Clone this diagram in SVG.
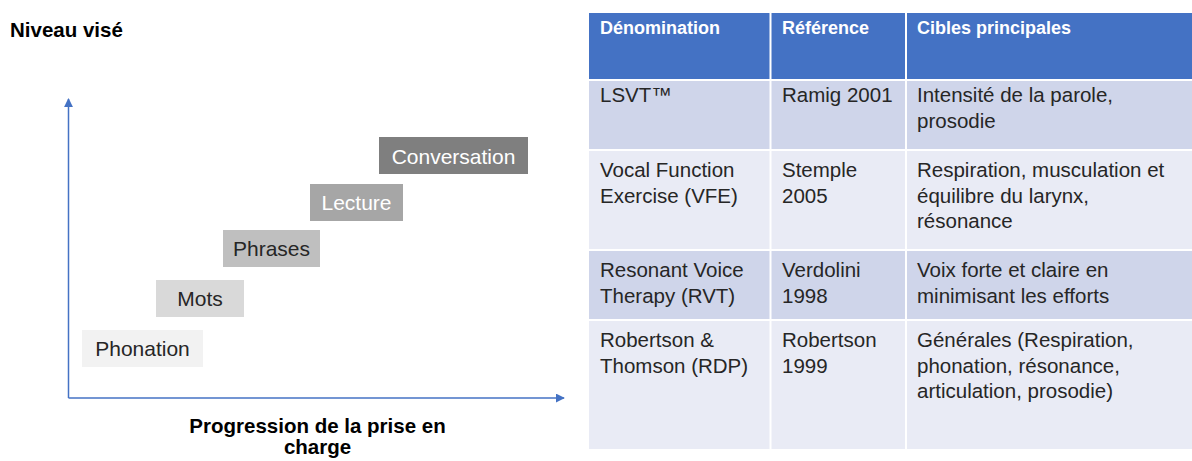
<svg xmlns="http://www.w3.org/2000/svg" width="1192" height="461" viewBox="0 0 1192 461">
<defs>
<style>
.t{font-family:"Liberation Sans",Arial,sans-serif;font-size:20.5px;fill:#262626}
.tb{font-family:"Liberation Sans",Arial,sans-serif;font-size:21px;fill:#262626;text-anchor:middle}
.h{font-family:"Liberation Sans",Arial,sans-serif;font-size:18px;font-weight:bold;fill:#ffffff}
.title{font-family:"Liberation Sans",Arial,sans-serif;font-size:20.5px;font-weight:bold;fill:#000000}
.ax{stroke:#4472c4;stroke-width:1.5;fill:none}
.dark{fill:#cfd5ea}
.light{fill:#e9ebf5}
</style>
<marker id="arr" viewBox="0 0 10 10" refX="9" refY="5" markerWidth="9" markerHeight="9" markerUnits="userSpaceOnUse" orient="auto">
<path d="M0,0 L10,5 L0,10 z" fill="#4472c4"/>
</marker>
</defs>
<rect width="1192" height="461" fill="#ffffff"/>

<text class="title" x="10" y="37">Niveau visé</text>

<g id="connectors">
<line class="ax" x1="68.5" y1="398" x2="68.5" y2="99" marker-end="url(#arr)"/>
<line class="ax" x1="68.5" y1="398" x2="564" y2="398" marker-end="url(#arr)"/>
</g>

<g id="phonation">
<rect x="82" y="330" width="121" height="37" fill="#f2f2f2"/>
<text class="tb" x="142.5" y="356">Phonation</text>
</g>
<g id="mots">
<rect x="156" y="280" width="88" height="37" fill="#d9d9d9"/>
<text class="tb" x="200" y="306">Mots</text>
</g>
<g id="phrases">
<rect x="223" y="230" width="97" height="37" fill="#bfbfbf"/>
<text class="tb" x="271.5" y="256">Phrases</text>
</g>
<g id="lecture">
<rect x="310" y="184" width="93" height="37" fill="#a6a6a6"/>
<text class="tb" x="356.5" y="210" style="fill:#ffffff">Lecture</text>
</g>
<g id="conversation">
<rect x="379" y="137" width="149" height="37" fill="#7f7f7f"/>
<text class="tb" x="453.5" y="164" style="fill:#ffffff">Conversation</text>
</g>

<text class="title" x="317.5" y="433" text-anchor="middle">Progression de la prise en</text>
<text class="title" x="317.5" y="454" text-anchor="middle">charge</text>

<g id="table">
<rect x="589" y="13" width="603" height="66" fill="#4472c4"/>
<rect class="dark" x="589" y="81" width="603" height="68"/>
<rect class="light" x="589" y="151" width="603" height="98"/>
<rect class="dark" x="589" y="251" width="603" height="68"/>
<rect class="light" x="589" y="321" width="603" height="128"/>
<line x1="770.5" y1="13" x2="770.5" y2="449" stroke="#ffffff" stroke-width="2"/>
<line x1="906" y1="13" x2="906" y2="449" stroke="#ffffff" stroke-width="2"/>

<text class="h" x="600" y="34">Dénomination</text>
<text class="h" x="782" y="34">Référence</text>
<text class="h" x="917" y="34">Cibles principales</text>

<text class="t" x="600" y="102">LSVT™</text>
<text class="t" x="782" y="102">Ramig 2001</text>
<text class="t" x="917" y="102">Intensité de la parole,</text>
<text class="t" x="917" y="128">prosodie</text>

<text class="t" x="600" y="177">Vocal Function</text>
<text class="t" x="600" y="203">Exercise (VFE)</text>
<text class="t" x="782" y="177">Stemple</text>
<text class="t" x="782" y="203">2005</text>
<text class="t" x="917" y="177">Respiration, musculation et</text>
<text class="t" x="917" y="203">équilibre du larynx,</text>
<text class="t" x="917" y="228">résonance</text>

<text class="t" x="600" y="277">Resonant Voice</text>
<text class="t" x="600" y="303">Therapy (RVT)</text>
<text class="t" x="782" y="277">Verdolini</text>
<text class="t" x="782" y="303">1998</text>
<text class="t" x="917" y="277">Voix forte et claire en</text>
<text class="t" x="917" y="303">minimisant les efforts</text>

<text class="t" x="600" y="347">Robertson &amp;</text>
<text class="t" x="600" y="373">Thomson (RDP)</text>
<text class="t" x="782" y="347">Robertson</text>
<text class="t" x="782" y="373">1999</text>
<text class="t" x="917" y="347">Générales (Respiration,</text>
<text class="t" x="917" y="373">phonation, résonance,</text>
<text class="t" x="917" y="398">articulation, prosodie)</text>
</g>
</svg>
